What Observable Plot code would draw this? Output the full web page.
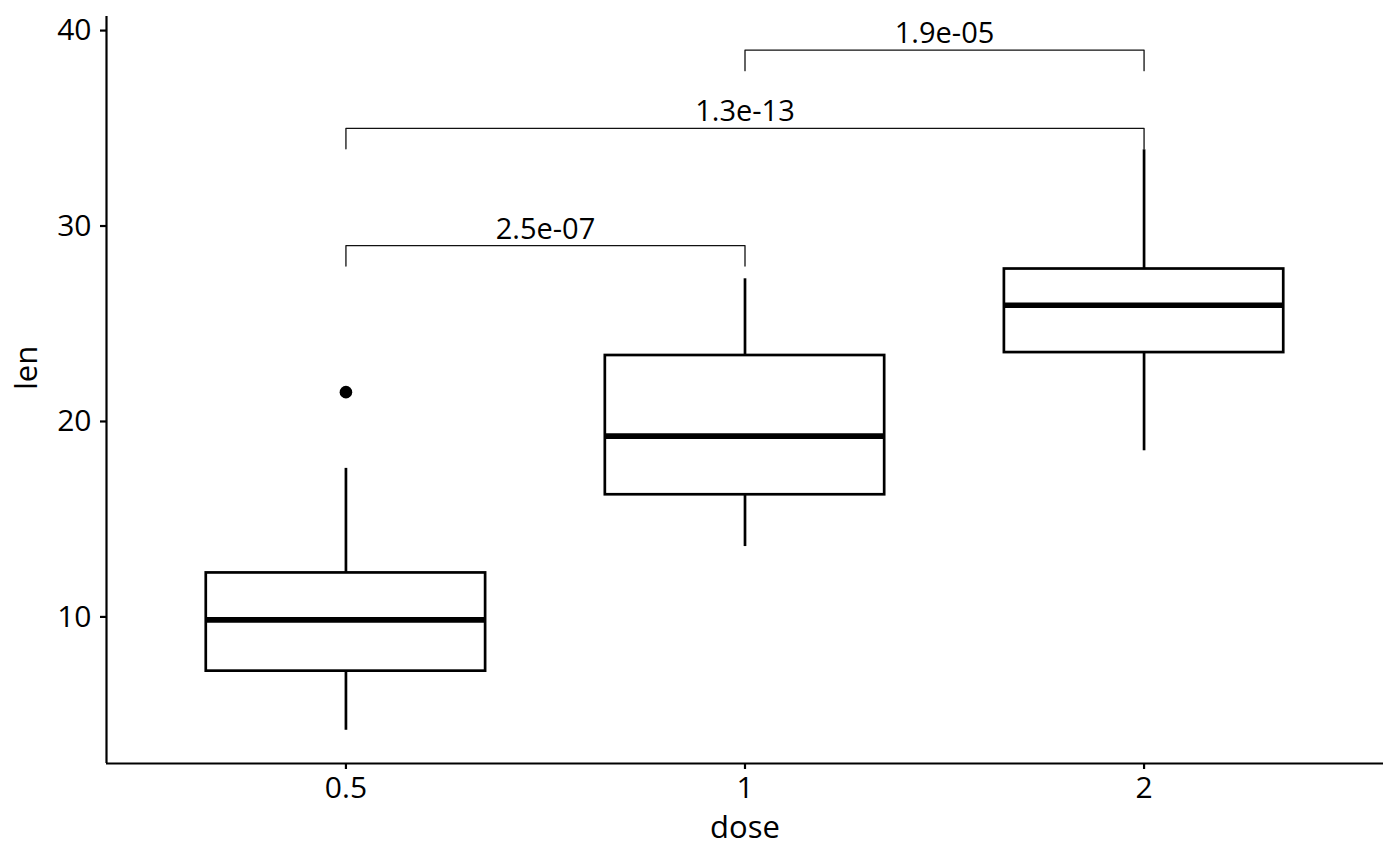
<!DOCTYPE html>
<html>
<head>
<meta charset="utf-8">
<script src="https://cdn.jsdelivr.net/npm/d3@7"></script>
<script src="https://cdn.jsdelivr.net/npm/@observablehq/plot@0.6"></script>
<style>
  html, body { margin: 0; padding: 0; background: #fff; }
  #chart { width: 1400px; height: 866px; }
</style>
</head>
<body>
<div id="chart"></div>
<script>
// Categories (dose) and box-plot statistics of len
const doses = ["0.5", "1", "2"];
const q1 = [7.225, 16.25, 23.525];
const median = [9.85, 19.25, 25.95];
const q3 = [12.25, 23.375, 27.8];
const whiskerLow = [4.2, 13.6, 18.5];
const whiskerHigh = [17.6, 27.3, 33.9];

// Outliers
const outlierDose = ["0.5"];
const outlierLen = [21.5];

// Pairwise comparisons (p-values)
const groupA = ["0.5", "0.5", "1"];
const groupB = ["1", "2", "2"];
const pLabels = ["2.5e-07", "1.3e-13", "1.9e-05"];
const bracketY = [29, 35, 39];
const tipLength = 1.05;

// Axis ticks
const yTicks = [10, 20, 30, 40];

const pos = d => doses.indexOf(d) + 1;

const boxes = doses.map((d, i) => ({
  x: i + 1, q1: q1[i], median: median[i], q3: q3[i], lo: whiskerLow[i], hi: whiskerHigh[i]
}));
const outliers = outlierDose.map((d, i) => ({x: pos(d), y: outlierLen[i]}));
const bracketPts = [];
const bracketLbl = [];
groupA.forEach((a, i) => {
  const xa = pos(a), xb = pos(groupB[i]), y = bracketY[i];
  bracketPts.push({k: i, x: xa, y: y - tipLength});
  bracketPts.push({k: i, x: xa, y: y});
  bracketPts.push({k: i, x: xb, y: y});
  bracketPts.push({k: i, x: xb, y: y - tipLength});
  bracketLbl.push({x: (xa + xb) / 2, y: y, label: pLabels[i]});
});

const yMin = 2.5, yMax = 40.72;
const halfW = 0.35;

const chart = Plot.plot({
  width: 1400,
  height: 866,
  marginLeft: 106,
  marginRight: 17,
  marginTop: 16,
  marginBottom: 103,
  style: {fontFamily: "'Open Sans', 'Noto Sans', sans-serif", color: "black", background: "white"},
  x: {type: "linear", domain: [0.4, 3.6]},
  y: {domain: [yMin, yMax]},
  marks: [
    // whiskers
    Plot.ruleX(boxes, {x: "x", y1: "q3", y2: "hi", stroke: "black", strokeWidth: 2.7}),
    Plot.ruleX(boxes, {x: "x", y1: "lo", y2: "q1", stroke: "black", strokeWidth: 2.7}),
    // boxes
    Plot.rect(boxes, {x1: d => d.x - halfW, x2: d => d.x + halfW, y1: "q1", y2: "q3",
      fill: "white", stroke: "black", strokeWidth: 2.7}),
    // medians
    Plot.ruleY(boxes, {x1: d => d.x - halfW, x2: d => d.x + halfW, y: "median",
      stroke: "black", strokeWidth: 5.6}),
    // outliers
    Plot.dot(outliers, {x: "x", y: "y", r: 6.3, fill: "black", stroke: null}),
    // brackets
    Plot.line(bracketPts, {x: "x", y: "y", z: "k", stroke: "#111", strokeWidth: 1.3}),
    Plot.text(bracketLbl, {x: "x", y: "y", text: "label", fontSize: 29, lineAnchor: "bottom",
      dy: -7, fill: "black"}),
    // axis lines
    Plot.ruleX([0.4], {stroke: "black", strokeWidth: 2.2}),
    Plot.ruleY([yMin], {stroke: "black", strokeWidth: 2.2}),
    // axes
    Plot.axisY({ticks: yTicks, tickSize: 6, tickPadding: 9, fontSize: 30, strokeWidth: 2.2,
      label: null, stroke: "black", fill: "black"}),
    Plot.axisX({ticks: [1, 2, 3], tickFormat: v => doses[v - 1], tickSize: 6, tickPadding: 7,
      fontSize: 30, strokeWidth: 2.2, label: null, stroke: "black", fill: "black"}),
    // axis titles
    Plot.text(["len"], {frameAnchor: "left", dx: -79, rotate: -90, fontSize: 31, fill: "black"}),
    Plot.text(["dose"], {frameAnchor: "bottom", dy: 74, fontSize: 31, fill: "black"})
  ]
});
document.getElementById("chart").appendChild(chart);
</script>
</body>
</html>
